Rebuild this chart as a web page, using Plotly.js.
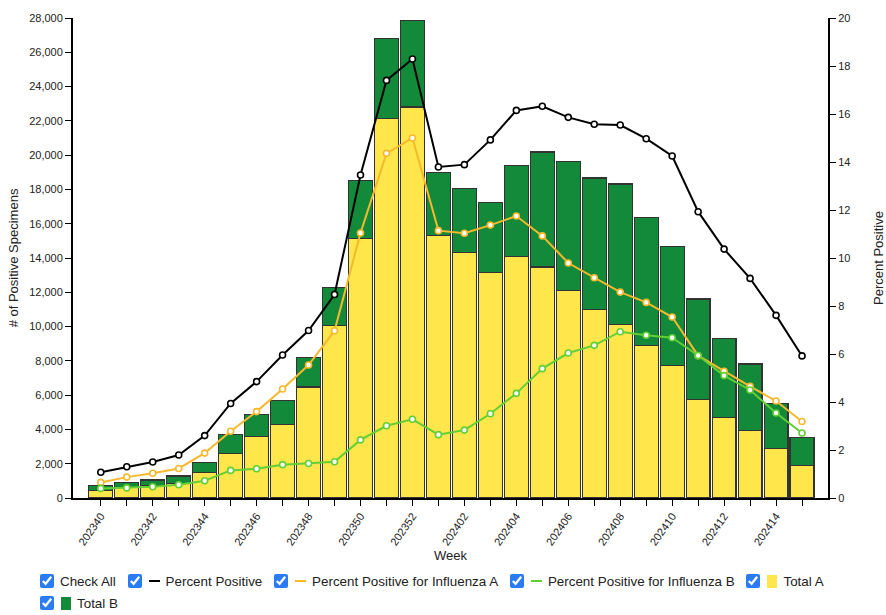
<!DOCTYPE html>
<html>
<head>
<meta charset="utf-8">
<script src="https://cdn.plot.ly/plotly-3.0.1.min.js"></script>
<style>
  html, body { margin: 0; padding: 0; background: #fff; width: 886px; height: 615px; overflow: hidden; }
  #chart { position: absolute; left: 0; top: 0; width: 886px; height: 615px; }
  #legend { position: absolute; left: 40px; top: 570px; width: 830px; font-family: "Liberation Sans", Arial, sans-serif; font-size: 13.4px; color: #222; }
  .item { display: inline-flex; align-items: center; margin-right: 8px; height: 22px; white-space: nowrap; }
  .item input { width: 14px; height: 14px; margin: 0 6px 0 0; accent-color: #2a7cf6; }
  .dash { display: inline-block; width: 11px; height: 2px; margin: 0 6px 0 1px; }
  .sq { display: inline-block; width: 10px; height: 13px; margin: 0 6px 0 1px; }
</style>
</head>
<body>
<div id="chart"></div>
<div id="legend">
  <span class="item"><input type="checkbox" checked>Check All</span>
  <span class="item"><input type="checkbox" checked><span class="dash" style="background:#000"></span>Percent Positive</span>
  <span class="item"><input type="checkbox" checked><span class="dash" style="background:#f6b92e"></span>Percent Positive for Influenza A</span>
  <span class="item"><input type="checkbox" checked><span class="dash" style="background:#62cf34"></span>Percent Positive for Influenza B</span>
  <span class="item"><input type="checkbox" checked><span class="sq" style="background:#ffe64a"></span>Total A</span><br>
  <span class="item"><input type="checkbox" checked><span class="sq" style="background:#138a3a"></span>Total B</span>
</div>
<script>
const weeks = ["202340","202341","202342","202343","202344","202345","202346","202347","202348","202349","202350","202351","202352",
  "202401","202402","202403","202404","202405","202406","202407","202408","202409","202410","202411","202412","202413","202414","202415"];
const totalA = [450,620,740,860,1500,2590,3600,4300,6480,10050,15150,22120,22810,
  15300,14330,13160,14100,13480,12090,10990,10110,8890,7740,5740,4700,3930,2890,1890];
const totalAll = [720,890,1050,1280,2060,3690,4860,5670,8190,12270,18510,26790,27850,
  18990,18060,17260,19390,20180,19620,18670,18320,16370,14660,11610,9310,7820,5500,3540];
const totalB = totalAll.map((t, i) => t - totalA[i]);
const pctPositive = [1.07,1.30,1.50,1.79,2.60,3.94,4.85,5.96,6.98,8.48,13.46,17.40,18.29,
  13.79,13.89,14.92,16.15,16.32,15.86,15.57,15.54,14.97,14.25,11.93,10.37,9.15,7.61,5.92];
const pctA = [0.65,0.87,1.03,1.23,1.87,2.78,3.60,4.54,5.54,6.97,11.04,14.36,15.00,
  11.14,11.03,11.37,11.75,10.92,9.79,9.18,8.58,8.15,7.54,5.93,5.28,4.65,4.04,3.19];
const pctB = [0.40,0.42,0.47,0.55,0.72,1.15,1.22,1.39,1.44,1.51,2.42,3.01,3.28,
  2.64,2.83,3.51,4.36,5.39,6.04,6.36,6.93,6.78,6.68,5.94,5.10,4.50,3.54,2.71];
const tickLabels = weeks.map((w, i) => (i % 2 === 0 ? w : ""));

const font = "Liberation Sans, Arial, sans-serif";
const barLine = { color: "#333333", width: 1.2 };
function lineTrace(y, color, name) {
  return {
    type: "scatter", mode: "lines+markers", x: weeks, y: y, yaxis: "y2", name: name,
    line: { color: color, width: 2 },
    marker: { symbol: "circle", size: 6, color: "#fff", line: { color: color, width: 1.6 } },
    cliponaxis: false
  };
}
const data = [
  { type: "bar", x: weeks, y: totalA, name: "Total A", marker: { color: "#ffe64a", line: barLine } },
  { type: "bar", x: weeks, y: totalB, name: "Total B", marker: { color: "#138a3a", line: barLine } },
  lineTrace(pctPositive, "#000000", "Percent Positive"),
  lineTrace(pctA, "#f6b92e", "Percent Positive for Influenza A"),
  lineTrace(pctB, "#62cf34", "Percent Positive for Influenza B")
];
const layout = {
  width: 886, height: 615,
  margin: { l: 73, r: 58, t: 18, b: 117 },
  paper_bgcolor: "#fff", plot_bgcolor: "#fff",
  barmode: "stack", bargap: 0.08,
  showlegend: false,
  font: { family: font, size: 11, color: "#222" },
  xaxis: {
    type: "category", range: [-1.07, 28.0],
    tickmode: "array", tickvals: weeks, ticktext: tickLabels, tickangle: -55,
    ticks: "outside", ticklen: 6, tickwidth: 1, tickcolor: "#000",
    showline: true, linecolor: "#000", linewidth: 1.5, showgrid: false, zeroline: false,
    tickfont: { size: 11, color: "#222" },
    title: { text: "Week", font: { size: 13, color: "#222" }, standoff: 2 },
    automargin: false
  },
  yaxis: {
    range: [0, 28000], dtick: 2000, tickformat: ",",
    ticks: "outside", ticklen: 6, tickwidth: 1, tickcolor: "#000",
    showline: true, linecolor: "#000", linewidth: 2, showgrid: false, zeroline: false,
    tickfont: { size: 11, color: "#222" },
    title: { text: "# of Positive Specimens", font: { size: 13, color: "#222" }, standoff: 8 },
    automargin: false
  },
  yaxis2: {
    overlaying: "y", side: "right", range: [0, 20], dtick: 2,
    ticks: "outside", ticklen: 6, tickwidth: 1, tickcolor: "#000",
    showline: true, linecolor: "#000", linewidth: 2, showgrid: false, zeroline: false,
    tickfont: { size: 11, color: "#222" },
    title: { text: "Percent Positive", font: { size: 13, color: "#222" }, standoff: 28 },
    automargin: false
  }
};
Plotly.newPlot("chart", data, layout, { displayModeBar: false, staticPlot: true });
</script>
</body>
</html>
